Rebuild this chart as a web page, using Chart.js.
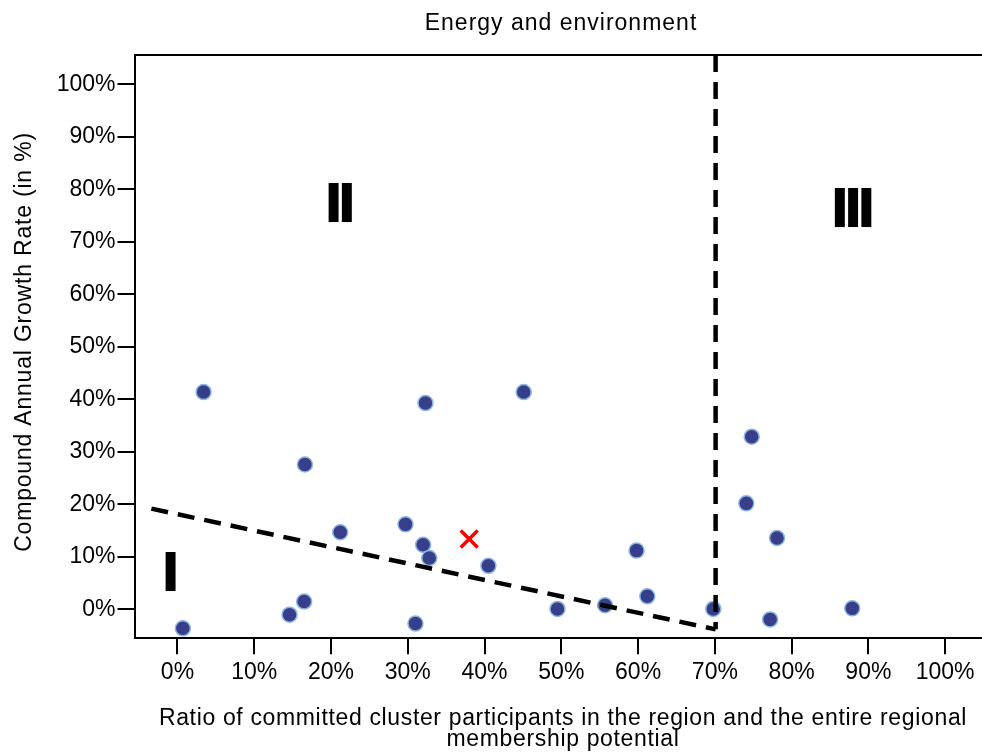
<!DOCTYPE html>
<html>
<head>
<meta charset="utf-8">
<script src="https://cdn.jsdelivr.net/npm/chart.js@4.4.1/dist/chart.umd.min.js"></script>
<style>
  html, body { margin: 0; padding: 0; background: #fff; overflow: hidden; }
  #wrap { width: 982px; height: 753px; }
  #chart { display: block; }
</style>
</head>
<body>
<div id="wrap"><canvas id="chart" width="982" height="753"></canvas></div>
<script>
// Datos (en %).
const clusterRatio = [3.4, 32.3, 16.6, 21.2, 29.7, 32.0, 32.8, 16.5, 14.6, 0.7, 31.0, 45.1, 40.5, 59.8, 61.2, 55.7, 49.5, 69.8, 74.8, 74.1, 78.1, 87.9, 77.2];
const growthRate = [41.4, 39.3, 27.6, 14.7, 16.2, 12.3, 9.8, 1.5, -1.0, -3.6, -2.7, 41.4, 8.3, 11.2, 2.5, 0.8, 0.1, 0.1, 32.9, 20.2, 13.6, 0.2, -1.9];

// Punto medio (la cruz roja).
const meanRatio = [38.0];
const meanGrowth = [13.4];

// Líneas discontinuas que separan las zonas.
const slopeX = [-3.4, 70.1];
const slopeY = [19.2, -3.8];
const cutX = [70.1, 70.1];
const cutY = [105.6, -3.8];

// Marcas de los ejes.
const tickValues = [0, 10, 20, 30, 40, 50, 60, 70, 80, 90, 100];

// Etiquetas de las zonas (centro en unidades de datos).
const regionNames = ["I", "II", "III"];
const regionX = [-0.9, 21.2, 88.0];
const regionY = [7.1, 77.4, 76.5];

const FONT = '"Liberation Sans", Arial, sans-serif';

const toPoints = (xs, ys) => xs.map((x, i) => ({ x: x, y: ys[i] }));

const dashedLine = (xs, ys) => ({
  type: "line",
  data: toPoints(xs, ys),
  borderColor: "#000",
  borderWidth: 4.5,
  borderDash: [17, 10],
  borderCapStyle: "butt",
  pointRadius: 0,
  fill: false,
  tension: 0,
});

// Textos y borde superior dibujados a mano.
const extrasPlugin = {
  id: "extras",
  afterDraw(chart) {
    const ctx = chart.ctx;
    const area = chart.chartArea;
    const xs = chart.scales.x;
    const ys = chart.scales.y;

    ctx.save();
    ctx.strokeStyle = "#000";
    ctx.lineWidth = 2;
    ctx.beginPath();
    ctx.moveTo(area.left, area.top);
    ctx.lineTo(area.right, area.top);
    ctx.stroke();

    ctx.fillStyle = "#000";
    ctx.textAlign = "center";
    ctx.textBaseline = "alphabetic";

    // Título
    ctx.font = "23px " + FONT;
    ctx.letterSpacing = "1px";
    ctx.fillText("Energy and environment", 561, 30);

    // Título eje X (dos líneas)
    ctx.letterSpacing = "0.65px";
    ctx.fillText("Ratio of committed cluster participants in the region and the entire regional", 563, 725);
    ctx.fillText("membership potential", 563, 746);

    // Título eje Y
    ctx.save();
    ctx.translate(31, 342);
    ctx.rotate(-Math.PI / 2);
    ctx.letterSpacing = "0.8px";
    ctx.fillText("Compound Annual Growth Rate (in %)", 0, 0);
    ctx.restore();

    // Zonas I, II, III
    const size = 53;
    ctx.font = "bold " + size + "px \"DejaVu Sans\"";
    ctx.letterSpacing = "-6.5px";
    regionNames.forEach((name, i) => {
      const px = xs.getPixelForValue(regionX[i]) - 3.25;
      const py = ys.getPixelForValue(regionY[i]) + size * 0.729 / 2;
      ctx.fillText(name, px, py);
    });
    ctx.restore();
  },
};

const ctx = document.getElementById("chart").getContext("2d");

new Chart(ctx, {
  type: "scatter",
  data: {
    datasets: [
      dashedLine(slopeX, slopeY),
      dashedLine(cutX, cutY),
      {
        data: toPoints(meanRatio, meanGrowth),
        pointStyle: "crossRot",
        pointRadius: 12,
        borderColor: "#ff0000",
        borderWidth: 3.5,
      },
      {
        data: toPoints(clusterRatio, growthRate),
        pointRadius: 7.5,
        backgroundColor: "#373f8a",
        borderColor: "#8cb6e0",
        borderWidth: 1.5,
      },
    ],
  },
  options: {
    responsive: false,
    animation: false,
    events: [],
    layout: { autoPadding: false, padding: { top: 55, left: 0, right: 0, bottom: 0 } },
    plugins: {
      legend: { display: false },
      tooltip: { enabled: false },
      title: { display: false },
    },
    scales: {
      x: {
        type: "linear",
        min: -5.6,
        max: 104.8,
        afterFit: scale => {
          scale.height = 114.7;
          scale.paddingLeft = 0;
          scale.paddingRight = 0;
        },
        afterBuildTicks: scale => { scale.ticks = tickValues.map(v => ({ value: v })); },
        grid: { drawOnChartArea: false, color: "#000", lineWidth: 2, tickLength: 16 },
        border: { color: "#000", width: 2 },
        ticks: {
          color: "#000",
          font: { family: FONT, size: 23 },
          padding: 5,
          maxRotation: 0,
          autoSkip: false,
          callback: v => v + "%",
        },
      },
      y: {
        type: "linear",
        min: -5.5,
        max: 105.6,
        afterFit: scale => {
          scale.width = 134.5;
          scale.paddingTop = 0;
          scale.paddingBottom = 0;
        },
        afterBuildTicks: scale => { scale.ticks = tickValues.map(v => ({ value: v })); },
        grid: { drawOnChartArea: false, color: "#000", lineWidth: 2, tickLength: 17 },
        border: { color: "#000", width: 2 },
        ticks: {
          color: "#000",
          font: { family: FONT, size: 23 },
          padding: 2,
          autoSkip: false,
          callback: v => v + "%",
        },
      },
    },
  },
  plugins: [extrasPlugin],
});
</script>
</body>
</html>
